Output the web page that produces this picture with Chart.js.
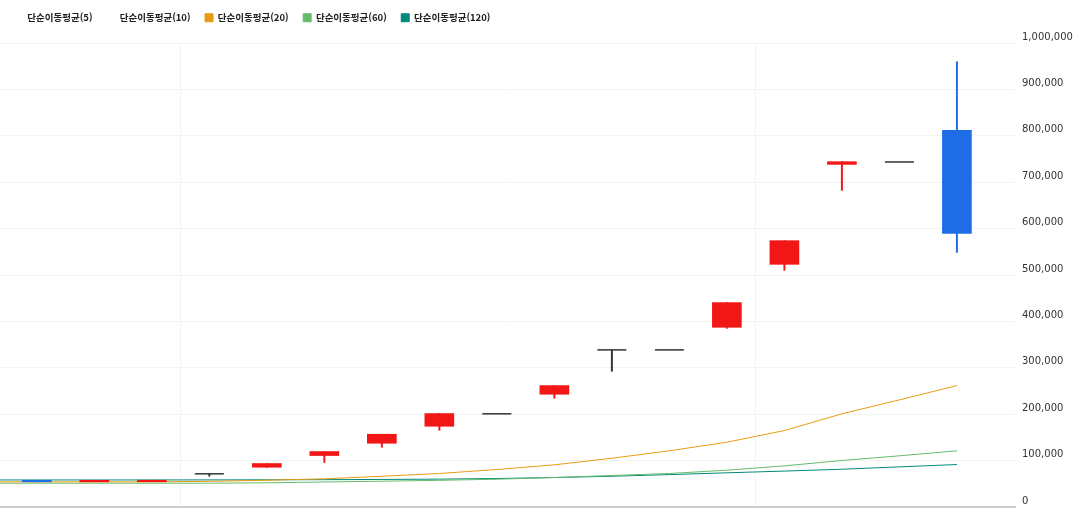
<!DOCTYPE html>
<html lang="ko">
<head>
<meta charset="utf-8">
<title>단순이동평균</title>
<script src="https://cdn.jsdelivr.net/npm/chart.js@4.4.1/dist/chart.umd.min.js"></script>
<style>
  html, body { margin: 0; padding: 0; background: #fff; }
  #wrap { width: 1073px; height: 508px; }
</style>
</head>
<body>
<div id="wrap"><canvas id="priceChart"></canvas></div>
<script>
// ---- Daily candles, oldest first ----
const openP  = [54500, 54300, 54400, 71500, 85700, 110900, 137400, 174000, 200800, 243000, 338600, 338600, 387300, 523000, 738400, 743600, 811600];
const highP  = [54500, 54600, 57500, 71500, 93700, 119500, 156800, 201400, 200800, 261700, 338600, 338600, 440500, 574000, 744200, 743600, 959600];
const lowP   = [54300, 54300, 54400, 66300, 85700,  95900, 128800, 165400, 200800, 234400, 292500, 338600, 385100, 510100, 682400, 743600, 548800];
const closeP = [54300, 54600, 54700, 71500, 93700, 119500, 156800, 201400, 200800, 261700, 338600, 338600, 440500, 574000, 744200, 743600, 589800];

// ---- Moving averages (first value is the day before the first candle) ----
const maNames = ['단순이동평균(5)', '단순이동평균(10)', '단순이동평균(20)', '단순이동평균(60)', '단순이동평균(120)'];
const ma20  = [54300, 54300, 54300, 54300, 55300, 57700, 60700, 66300, 72200, 80800, 90900, 105100, 121100, 139600, 164800, 200800, 230900, 261700];
const ma60  = [51300, 51300, 51300, 51300, 51300, 52100, 53900, 55600, 57500, 59900, 63500, 67900, 72200, 79300, 88700, 100200, 110300, 121100];
const ma120 = [58300, 58300, 58300, 58300, 58400, 58600, 58900, 59400, 60100, 61400, 63600, 66300, 69800, 73700, 77400, 81400, 86500, 91500];

// ---- Axes ----
const yTickValues = [0, 100000, 200000, 300000, 400000, 500000, 600000, 700000, 800000, 900000, 1000000];
const gridDays = [2.5, 12.5];

const UP = '#f21717', DOWN = '#1e6de6', FLAT = '#333333';
const candleColor = i => closeP[i] > openP[i] ? UP : (closeP[i] < openP[i] ? DOWN : FLAT);

const idx = openP.map((_, i) => i);
const bodyIdx = idx.filter(i => openP[i] !== closeP[i]);
const wickIdx = idx.filter(i => highP[i] > lowP[i]);
const dojiIdx = idx.filter(i => openP[i] === closeP[i]);

const maPoints = arr => arr.map((v, k) => ({ x: k - 1, y: v }));

function maDataset(label, data, color) {
  return {
    type: 'line',
    label: label,
    data: data,
    borderColor: color,
    backgroundColor: color,
    borderWidth: 1,
    pointRadius: 0,
    tension: 0,
    order: 1
  };
}

// keep the legend strip a fixed height so the plot starts at the 1,000,000 line
const legendHeight = {
  id: 'legendHeight',
  beforeInit(chart) {
    const fit = chart.legend.fit;
    chart.legend.fit = function () {
      fit.call(this);
      this.height = 44.5;
    };
  }
};

Chart.defaults.font.family = "'Noto Sans CJK KR', 'Noto Sans', sans-serif";

new Chart(document.getElementById('priceChart').getContext('2d'), {
  type: 'bar',
  data: {
    datasets: [
      {
        label: 'body',
        data: bodyIdx.map(i => ({ x: i, y: [openP[i], closeP[i]] })),
        backgroundColor: bodyIdx.map(candleColor),
        barThickness: 29,
        minBarLength: 1.5,
        grouped: false,
        borderWidth: 0,
        order: 0
      },
      {
        label: 'wick',
        data: wickIdx.map(i => ({ x: i, y: [lowP[i], highP[i]] })),
        backgroundColor: wickIdx.map(candleColor),
        barThickness: 1.3,
        grouped: false,
        borderWidth: 0,
        order: 0
      },
      {
        type: 'line',
        label: 'doji',
        data: dojiIdx.map(i => ({ x: i, y: closeP[i] })),
        showLine: false,
        pointStyle: 'line',
        pointRadius: 14.5,
        pointBorderWidth: 1.5,
        pointBorderColor: FLAT,
        borderColor: FLAT,
        order: 0
      },
      maDataset(maNames[0], [], 'rgba(0,0,0,0)'),
      maDataset(maNames[1], [], 'rgba(0,0,0,0)'),
      maDataset(maNames[2], maPoints(ma20), '#e89b12'),
      maDataset(maNames[3], maPoints(ma60), '#66bb6a'),
      maDataset(maNames[4], maPoints(ma120), '#00897b')
    ]
  },
  options: {
    responsive: true,
    maintainAspectRatio: false,
    animation: false,
    events: [],
    layout: { autoPadding: false, padding: { top: -1.5, bottom: 1 } },
    plugins: {
      tooltip: { enabled: false },
      legend: {
        position: 'top',
        align: 'start',
        labels: {
          filter: item => item.datasetIndex >= 3,
          boxWidth: 8,
          boxHeight: 8,
          padding: 14.5,
          color: '#222',
          font: { size: 9.5, weight: 'bold' }
        }
      }
    },
    scales: {
      x: {
        type: 'linear',
        min: -0.64,
        max: 17.01,
        offset: false,
        afterBuildTicks: axis => { axis.ticks = gridDays.map(v => ({ value: v })); },
        afterFit: axis => { axis.height = 0; },
        ticks: { display: false },
        grid: { color: '#f3f3f3', drawTicks: false, offset: false },
        border: { color: '#cccccc', width: 2 }
      },
      y: {
        position: 'right',
        min: 0,
        max: 1000000,
        afterBuildTicks: axis => { axis.ticks = yTickValues.map(v => ({ value: v })); },
        afterFit: axis => {
          axis.width = 58;
          axis.paddingTop = 0;
          axis.paddingBottom = 0;
        },
        ticks: {
          padding: 7,
          labelOffset: -6,
          color: '#333',
          font: { family: 'DejaVu Sans', size: 10 },
          callback: v => v.toLocaleString('en-US')
        },
        grid: { color: '#f3f3f3', drawTicks: false },
        border: { display: false }
      }
    }
  },
  plugins: [legendHeight]
});
</script>
</body>
</html>
